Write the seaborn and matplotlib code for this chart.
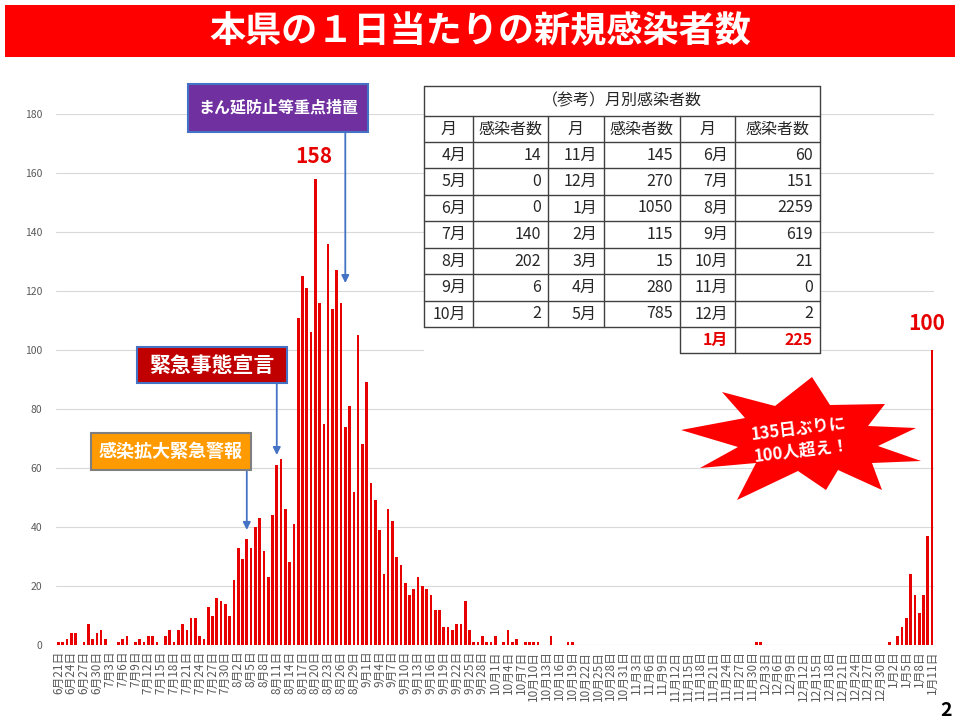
import numpy as np
import pandas as pd
import matplotlib
matplotlib.use('Agg')
import matplotlib.pyplot as plt
import seaborn as sns
from matplotlib.patches import Rectangle, Polygon
from matplotlib.lines import Line2D

# ---------------- data ----------------
june = [1, 1, 2, 4, 4, 0, 1, 7, 2, 4]
july = [5, 2, 0, 0, 1, 2, 3, 0, 1, 2, 1, 3, 3, 1, 0, 3, 5, 1, 5, 7,
        5, 9, 9, 3, 2, 13, 10, 16, 15, 14, 10]
aug = [22, 33, 29, 36, 33, 40, 43, 32, 23, 44, 61, 63, 46, 28, 41, 111,
       125, 121, 106, 158, 116, 75, 136, 114, 127, 116, 74, 81, 52, 105, 68]
sep = [89, 55, 49, 39, 24, 46, 42, 30, 27, 21, 17, 19, 23, 20, 19, 17,
       12, 12, 6, 6, 5, 7, 7, 15, 5, 1, 1, 3, 1, 1]
octo = [3, 0, 1, 5, 1, 2, 0, 1, 1, 1, 1, 0, 0, 3, 0, 0, 0, 1, 1, 0,
        0, 0, 0, 0, 0, 0, 0, 0, 0, 0, 0]
nov = [0] * 30
dec = [1, 1] + [0] * 29
jan = [1, 0, 3, 6, 9, 24, 17, 11, 17, 37, 100]
cases = june + july + aug + sep + octo + nov + dec + jan

dates = pd.date_range('2021-06-21', '2022-01-11')
date_labels = [f'{d.month}月{d.day}日' for d in dates]

# monthly reference table
tbl_months_a = ['4月', '5月', '6月', '7月', '8月', '9月', '10月']
tbl_cases_a = [14, 0, 0, 140, 202, 6, 2]
tbl_months_b = ['11月', '12月', '1月', '2月', '3月', '4月', '5月']
tbl_cases_b = [145, 270, 1050, 115, 15, 280, 785]
tbl_months_c = ['6月', '7月', '8月', '9月', '10月', '11月', '12月']
tbl_cases_c = [60, 151, 2259, 619, 21, 0, 2]
tbl_last_month = '1月'
tbl_last_cases = 225

# ---------------- style ----------------
sns.set_theme(style='white')
plt.rcParams['font.family'] = ['Noto Sans CJK JP', 'DejaVu Sans']

W, H = 960, 720
fig = plt.figure(figsize=(9.6, 7.2), dpi=100)


def fx(x):
    return x / W


def fy(y):
    return 1 - y / H


# ---------------- bars ----------------
ax = fig.add_axes([fx(56.2), fy(645), fx(934.2) - fx(56.2), fy(114) - fy(645)])
df = pd.DataFrame({'date': date_labels, 'cases': cases})
sns.barplot(data=df, x='date', y='cases', color='#E60000', saturation=1,
            width=0.62, errorbar=None, ax=ax, zorder=3, linewidth=0,
            edgecolor='none')
ax.set_xlim(-0.5, len(cases) - 0.5)
ax.set_ylim(0, 180)
ax.set_yticks(range(0, 181, 20))
ax.yaxis.grid(True, color='#d9d9d9', lw=0.8, zorder=0)
ax.set_axisbelow(True)
for s in ax.spines.values():
    s.set_visible(False)
ax.set_xlabel('')
ax.set_ylabel('')
tick_pos = list(range(0, len(cases), 3))
ax.set_xticks(tick_pos)
ax.set_xticklabels([date_labels[i] for i in tick_pos], rotation=90)
ax.tick_params(axis='x', length=0, pad=4, labelsize=8.5, labelcolor='#595959')
ax.tick_params(axis='y', length=0, pad=10, labelsize=7.5, labelcolor='#595959')

# value labels
imax = int(np.argmax(cases))
ax.annotate(str(cases[imax]), xy=(imax, cases[imax]), xytext=(-1, 16),
            textcoords='offset points', ha='center', va='center',
            color='#E60000', fontsize=15, fontweight='bold')
ilast = len(cases) - 1
ax.annotate(str(cases[ilast]), xy=(ilast, cases[ilast]), xytext=(-4, 19),
            textcoords='offset points', ha='center', va='center',
            color='#E60000', fontsize=15, fontweight='bold')

# ---------------- event arrows ----------------
arrow_kw = dict(arrowstyle='-|>', color='#4472C4', lw=1.3, mutation_scale=11,
                shrinkA=0, shrinkB=0)
events = [  # (date index, arrow start y, arrow end y)
    (date_labels.index('8月4日'), 59.3, 39.0),
    (date_labels.index('8月11日'), 88.8, 64.4),
    (date_labels.index('8月27日'), 173.9, 122.7),
]
for idx, y0, y1 in events:
    ax.annotate('', xy=(idx, y1), xytext=(idx, y0), arrowprops=arrow_kw,
                annotation_clip=False)


def box(x0, y0, x1, y1, fc, ec, text, fs):
    fig.add_artist(Rectangle((fx(x0), fy(y1)), fx(x1) - fx(x0), fy(y0) - fy(y1),
                             transform=fig.transFigure, facecolor=fc,
                             edgecolor=ec, lw=1.5, zorder=4))
    fig.text(fx((x0 + x1) / 2), fy((y0 + y1) / 2), text, ha='center',
             va='center', color='white', fontsize=fs, fontweight='bold',
             zorder=5)


box(188, 84, 368, 132, '#7030A0', '#4472C4', 'まん延防止等重点措置', 11.5)
box(137, 347, 287, 383, '#C00000', '#4472C4', '緊急事態宣言', 15)
box(91, 433, 251, 470, '#FF9A00', '#7F7F7F', '感染拡大緊急警報', 13)

# ---------------- title ----------------
fig.add_artist(Rectangle((fx(5), fy(57)), fx(955) - fx(5), fy(5) - fy(57),
                         transform=fig.transFigure, facecolor='#FF0000',
                         edgecolor='none', zorder=4))
fig.text(fx(480), fy(31), '本県の１日当たりの新規感染者数', ha='center',
         va='center', color='white', fontsize=26, fontweight='bold', zorder=5)

# ---------------- table ----------------
cols = [424, 473, 548, 604, 680, 735, 820]
rows = [86, 116, 142, 168, 195, 221, 248, 274, 301, 327, 353]
fig.add_artist(Rectangle((fx(cols[0]), fy(rows[-1])), fx(cols[-1]) - fx(cols[0]),
                         fy(rows[0]) - fy(rows[-1]), transform=fig.transFigure,
                         facecolor='white', edgecolor='none', zorder=4))
lc = '#404040'


def hline(y, xa, xb):
    fig.add_artist(Line2D([fx(xa), fx(xb)], [fy(y), fy(y)], color=lc, lw=1,
                          transform=fig.transFigure, zorder=6))


def vline(x, ya, yb):
    fig.add_artist(Line2D([fx(x), fx(x)], [fy(ya), fy(yb)], color=lc, lw=1,
                          transform=fig.transFigure, zorder=6))


for r in rows[:-1]:
    hline(r, cols[0], cols[-1])
hline(rows[-1], cols[4], cols[-1])
vline(cols[0], rows[0], rows[-2])
vline(cols[-1], rows[0], rows[-1])
for c in cols[1:4]:
    vline(c, rows[1], rows[-2])
vline(cols[4], rows[1], rows[-1])
vline(cols[5], rows[1], rows[-1])

tc = '#262626'
tfs = 11.5
fig.text(fx((cols[0] + cols[-1]) / 2), fy((rows[0] + rows[1]) / 2),
         '（参考）月別感染者数', ha='center', va='center', color=tc,
         fontsize=11.5, zorder=7)
for k in range(3):
    ym = fy((rows[1] + rows[2]) / 2)
    fig.text(fx((cols[2 * k] + cols[2 * k + 1]) / 2), ym, '月', ha='center',
             va='center', color=tc, fontsize=tfs, zorder=7)
    fig.text(fx((cols[2 * k + 1] + cols[2 * k + 2]) / 2), ym, '感染者数',
             ha='center', va='center', color=tc, fontsize=tfs, zorder=7)
pad = 7
for k, (ms, vs) in enumerate([(tbl_months_a, tbl_cases_a),
                              (tbl_months_b, tbl_cases_b),
                              (tbl_months_c, tbl_cases_c)]):
    for i, (m, v) in enumerate(zip(ms, vs)):
        ym = fy((rows[2 + i] + rows[3 + i]) / 2)
        fig.text(fx(cols[2 * k + 1] - pad), ym, m, ha='right', va='center',
                 color=tc, fontsize=tfs, zorder=7)
        fig.text(fx(cols[2 * k + 2] - pad), ym, str(v), ha='right',
                 va='center', color=tc, fontsize=tfs, zorder=7)
ym = fy((rows[-2] + rows[-1]) / 2)
fig.text(fx(cols[5] - pad), ym, tbl_last_month, ha='right', va='center',
         color='#E60000', fontsize=tfs, fontweight='bold', zorder=7)
fig.text(fx(cols[6] - pad), ym, str(tbl_last_cases), ha='right', va='center',
         color='#E60000', fontsize=tfs, fontweight='bold', zorder=7)

# ---------------- starburst ----------------
star_px = [(681, 430), (745, 418), (722, 392), (775, 406), (812, 377),
           (830, 405), (885, 404), (868, 426), (916, 428), (878, 446),
           (921, 461), (872, 463), (882, 490), (838, 470), (826, 490),
           (798, 471), (737, 500), (756, 463), (700, 468), (738, 447)]
fig.add_artist(Polygon([(fx(x), fy(y)) for x, y in star_px], closed=True,
                       transform=fig.transFigure, facecolor='#FF0000',
                       edgecolor='none', zorder=4))
fig.text(fx(800), fy(440), '135日ぶりに\n100人超え！', ha='center', va='center',
         color='white', fontsize=12, fontweight='bold', rotation=7,
         linespacing=1.2, zorder=5)

# page number
fig.text(fx(946), fy(711), '2', ha='center', va='center', color='black',
         fontsize=14, fontweight='bold')

fig.savefig('out.png', dpi=100)
